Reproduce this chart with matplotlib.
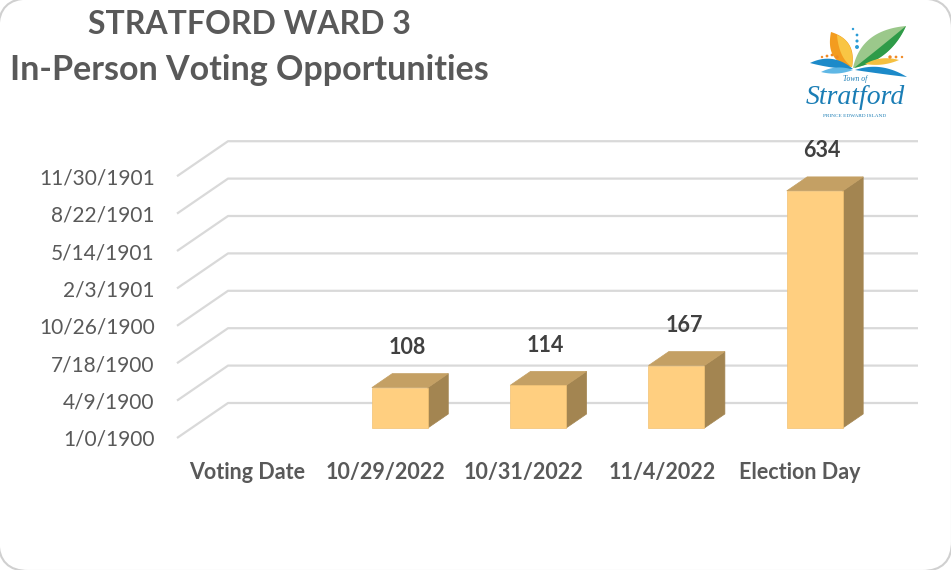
import numpy as np
import matplotlib.pyplot as plt
from matplotlib.patches import Polygon, FancyBboxPatch

# ---- data ----
categories = ['Voting Date', '10/29/2022', '10/31/2022', '11/4/2022', 'Election Day']
votes = [0, 108, 114, 167, 634]
tick_values = [0, 100, 200, 300, 400, 500, 600, 700]
tick_labels = ['1/0/1900', '4/9/1900', '7/18/1900', '10/26/1900',
               '2/3/1901', '5/14/1901', '8/22/1901', '11/30/1901']

plt.rcParams['font.family'] = ['Lato', 'DejaVu Sans']

W, H = 951, 570
fig = plt.figure(figsize=(W / 100, H / 100), dpi=100)

# background frame with rounded corners (edges sit just outside the canvas)
bg = fig.add_axes([0, 0, 1, 1], zorder=-5)
bg.set_xlim(0, W)
bg.set_ylim(H, 0)
bg.axis('off')
bg.add_patch(FancyBboxPatch((-1.5, -1.5), W + 2.5, H + 2.5,
                            boxstyle='round,pad=0,rounding_size=30',
                            fc='white', ec='#d0d0d0', lw=1.5))

# titles
fig.text(249 / W, 1 - 25 / H, 'STRATFORD WARD 3', ha='center', va='center',
         fontsize=23, fontweight='bold', color='#595959')
fig.text(249 / W, 1 - 70 / H, 'In-Person Voting Opportunities', ha='center', va='center',
         fontsize=24.5, fontweight='bold', color='#595959')

# ---- pseudo 3D column chart ----
ax = fig.add_axes([177 / W, 1 - 438 / H, (918 - 177) / W, (438 - 143) / H])
ax.set_xlim(-0.506, 4.852)
ax.set_ylim(0, 788.8)
ax.patch.set_alpha(0)
for s in ax.spines.values():
    s.set_visible(False)

DX, DY = 0.369, 93.6      # depth vector of the wall in data units
z0, z1 = 0.286, 0.686     # depth slice occupied by the columns
bw = 0.405                # column width
wall_l, wall_r = -0.506, 4.483

# gridlines: diagonal on the side, horizontal on the back wall
for v in tick_values:
    ax.plot([wall_l, wall_l + DX, wall_r + DX], [v, v + DY, v + DY],
            color='#d9d9d9', lw=1.6, zorder=1, clip_on=False, solid_capstyle='butt')

front_c = '#FFCF80'
top_c = '#C4A064'
side_c = '#A38551'
d = z1 - z0
for i, v in enumerate(votes):
    if i == 0:
        continue
    xl = i - bw / 2 + z0 * DX
    xr = i + bw / 2 + z0 * DX
    base = z0 * DY
    top = base + v
    front = [(xl, base), (xr, base), (xr, top), (xl, top)]
    lid = [(xl, top), (xr, top), (xr + d * DX, top + d * DY), (xl + d * DX, top + d * DY)]
    side = [(xr, base), (xr + d * DX, base + d * DY), (xr + d * DX, top + d * DY), (xr, top)]
    ax.add_patch(Polygon(side, closed=True, fc=side_c, ec=side_c, lw=0.5, zorder=3))
    ax.add_patch(Polygon(lid, closed=True, fc=top_c, ec=top_c, lw=0.5, zorder=3))
    ax.add_patch(Polygon(front, closed=True, fc=front_c, ec='#F2C273', lw=0.5, zorder=4))
    ax.annotate(str(v), xy=(i + (z0 + d / 2) * DX, top + d / 2 * DY),
                xytext=(-2, 24), textcoords='offset points', ha='center', va='center',
                fontsize=15.5, fontweight='bold', color='#404040', zorder=5)

ax.set_yticks(tick_values, tick_labels)
ax.set_xticks(range(len(categories)), categories)
ax.tick_params(axis='y', length=0, pad=16, labelsize=15, labelcolor='#595959')
ax.tick_params(axis='x', length=0, pad=17, labelsize=15.5, labelcolor='#595959')
for lab in ax.get_xticklabels():
    lab.set_fontweight('bold')


# ---- town logo ----
def bez(p0, p1, p2, n=40):
    t = np.linspace(0, 1, n)[:, None]
    p0, p1, p2 = np.array(p0), np.array(p1), np.array(p2)
    return (1 - t) ** 2 * p0 + 2 * (1 - t) * t * p1 + t ** 2 * p2


def leaf(lax, a, b, c1, c2, color):
    pts = np.vstack([bez(a, c1, b), bez(b, c2, a)])
    lax.add_patch(Polygon(pts, closed=True, fc=color, ec='none'))


lg = fig.add_axes([795 / W, 1 - 122 / H, 115 / W, 102 / H])
lg.set_xlim(0, 115)
lg.set_ylim(102, 0)
lg.axis('off')

leaf(lg, (57, 47), (36, 12), (30, 42), (62, 20), '#F39C1F')
leaf(lg, (57, 47), (42, 15), (44, 38), (60, 22), '#F9C544')
leaf(lg, (58, 48), (111, 6), (66, 10), (94, 42), '#9BC88B')
leaf(lg, (59, 48), (111, 6), (82, 30), (96, 40), '#2E9B48')
leaf(lg, (15, 43), (58, 49), (38, 32), (38, 49), '#1C8AC9')
leaf(lg, (26, 52), (58, 50), (42, 44), (42, 56), '#5FB7E5')
leaf(lg, (70, 44), (104, 40), (86, 35), (88, 47), '#F5C040')
leaf(lg, (60, 50), (112, 57), (86, 41), (86, 54), '#1C8AC9')
lg.scatter([58, 62, 62, 62], [9, 15, 21, 27], s=[3, 4, 5, 8], color='#2A9BD6', lw=0)
lg.scatter([27, 32, 37, 42], [37, 36, 35, 37], s=[3, 4, 4, 6], color='#F08A24', lw=0)
lg.scatter([95, 101, 107], [37, 37, 37], s=[6, 4, 3], color='#F08A24', lw=0)
lg.text(60, 59, 'Town of', ha='center', va='center', fontsize=5.5,
        family='Liberation Serif', style='italic', color='#1A7DB5')
lg.text(60, 77, 'Stratford', ha='center', va='center', fontsize=20,
        family='Liberation Serif', style='italic', color='#1A7DB5')
lg.text(60, 96, 'PRINCE EDWARD ISLAND', ha='center', va='center', fontsize=3.8,
        family='Liberation Serif', color='#1A7DB5')

fig.savefig('out.png', dpi=100)
